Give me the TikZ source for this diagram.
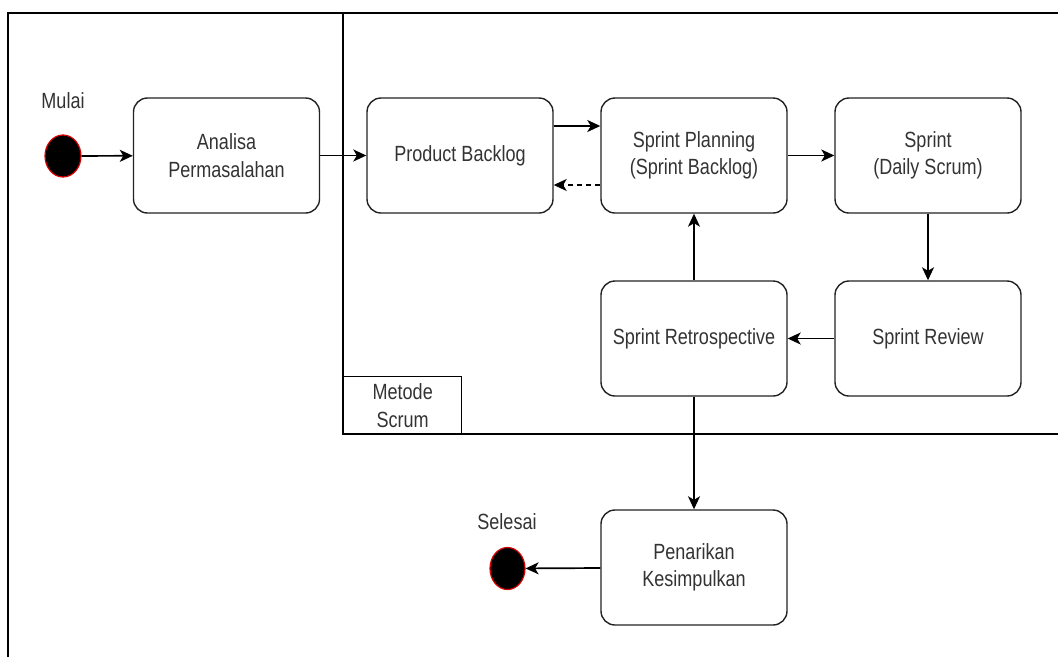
\documentclass[tikz,border=0pt]{standalone}
\usepackage{fontspec}
\setmainfont{Liberation Sans}[FakeStretch=0.82]
\usetikzlibrary{arrows.meta,shapes.geometric}
\definecolor{txt}{HTML}{333333}
\definecolor{edge}{HTML}{222222}
\tikzset{
  act/.style={draw=edge, line width=1.4pt, rounded corners=14pt, minimum width=186pt, minimum height=115pt, align=center, text=txt, inner sep=0pt, font=\fontsize{22}{27.5}\selectfont},
  dot/.style={ellipse, fill=black, draw=red!85!black, line width=1.2pt, minimum width=36pt, minimum height=42pt, inner sep=0pt},
  lbl/.style={text=txt, font=\fontsize{22}{27.5}\selectfont, inner sep=0pt, align=center},
  frame/.style={draw=black, line width=1.4pt},
  arr/.style={draw=black, line width=1.7pt, -{Stealth[length=13pt,width=12pt,inset=3.5pt]}},
}
\begin{document}
\begin{tikzpicture}[x=1pt,y=-1pt]
\useasboundingbox (0,0) rectangle (1058,657);
% frame lines
\draw[frame] (1058,13) -- (8,13) -- (8,657);
\draw[frame] (343,13) -- (343,434) -- (1058,434);
\node[draw=black, line width=1.4pt, minimum width=118pt, minimum height=58pt, inner sep=0pt, anchor=north west, text=txt, align=center, font=\fontsize{22}{27.5}\selectfont] (ms) at (343,376) {Metode\\Scrum};
% nodes
\node[dot] (start) at (63,156) {};
\node[lbl] (mulai) at (63,101) {Mulai};
\node[act] (an) at (226.5,155.5) {Analisa\\Permasalahan};
\node[act] (pb) at (460,155.5) {Product Backlog};
\node[act] (sp) at (694,155.5) {Sprint Planning\\(Sprint Backlog)};
\node[act] (s) at (928,155.5) {Sprint\\(Daily Scrum)};
\node[act] (sr) at (928,338.5) {Sprint Review};
\node[act] (rt) at (694,338.5) {Sprint Retrospective};
\node[act] (pk) at (694,567.5) {Penarikan\\Kesimpulkan};
\node[dot, minimum width=35pt] (end) at (507.5,568.5) {};
\node[lbl] (sel) at (507,522) {Selesai};
% connectors
\draw[arr] (start) -- (an);
\draw[arr] (an) -- (pb);
\draw[arr] (pb.east |- 0,126) -- (sp.west |- 0,126);
\draw[arr, dashed, dash pattern=on 5pt off 4pt] (sp.west |- 0,185) -- (pb.east |- 0,185);
\draw[arr] (sp) -- (s);
\draw[arr] (s) -- (sr);
\draw[arr] (sr) -- (rt);
\draw[arr] (rt) -- (sp);
\draw[arr] (rt) -- (pk);
\draw[arr] (pk) -- (end);
\end{tikzpicture}
\end{document}
